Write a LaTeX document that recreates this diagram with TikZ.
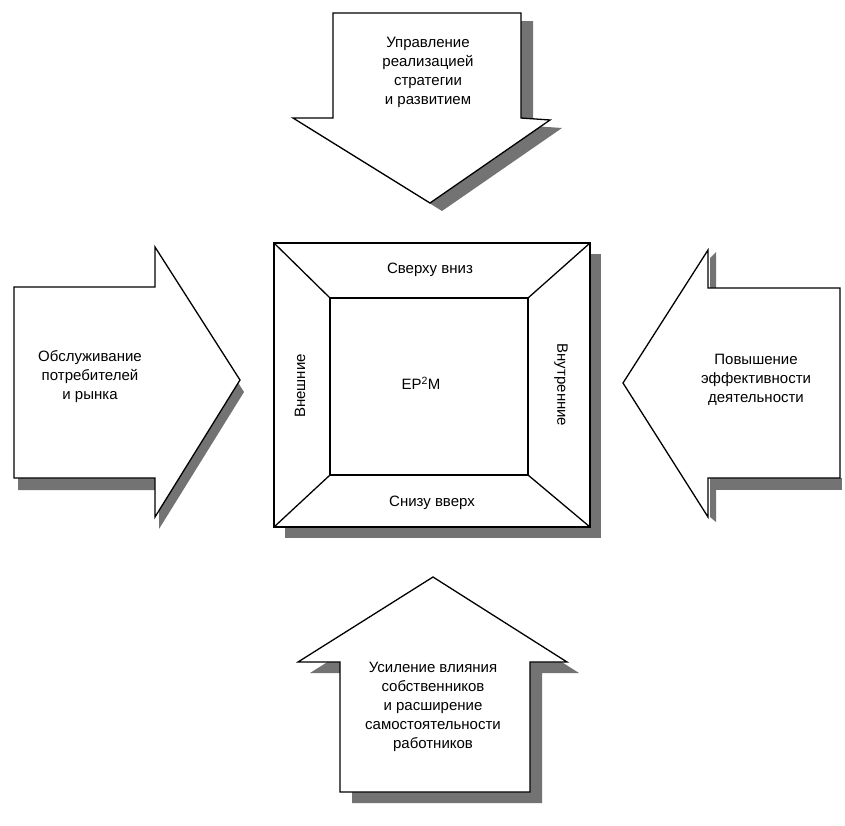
\documentclass[tikz,border=0pt]{standalone}
\usepackage{fontspec}
\setmainfont{Liberation Sans}
\newcommand{\toparrowpath}{(333,13) -- (521,13) -- (521,118) -- (550,120) -- (430,203) -- (293,118) -- (333,118) -- cycle}
\newcommand{\leftarrowpath}{(14,287) -- (155,287) -- (155,247) -- (240,380) -- (155,517) -- (155,478) -- (14,478) -- cycle}
\newcommand{\rightarrowpath}{(840,288) -- (708,288) -- (708,250) -- (623,383) -- (708,517) -- (708,478) -- (840,478) -- cycle}
\newcommand{\bottomarrowpath}{(433,577) -- (567,662) -- (530,662) -- (530,792) -- (340,792) -- (340,662) -- (298,662) -- cycle}
\begin{document}
\begin{tikzpicture}[x=1pt,y=-1pt,
  blockshape/.style={draw=black, fill=white, line width=1.3pt, line join=miter},
  shadowfill/.style={fill=black!55, draw=none},
  lbl/.style={font=\fontsize{15}{19}\selectfont, align=center, inner sep=0pt},
  frameline/.style={draw=black, line width=1.3pt}]
\useasboundingbox (0,0) rectangle (845,825);
% shadows
\fill[shadowfill, shift={(12,8)}] \toparrowpath;
\fill[shadowfill, shift={(4,12)}] \leftarrowpath;
\fill[shadowfill] (710,478) rectangle (842,490);
\fill[shadowfill] (710,490) -- (716,490) -- (716,522) -- (710,517) -- cycle;
\fill[shadowfill] (710,258) -- (716,252) -- (716,288) -- (710,288) -- cycle;
\fill[shadowfill, shift={(12,11)}] \bottomarrowpath;
\fill[shadowfill] (285,254) rectangle (601,538);
% arrows
\draw[blockshape] \toparrowpath;
\draw[blockshape] \leftarrowpath;
\draw[blockshape] \rightarrowpath;
\draw[blockshape] \bottomarrowpath;
% central frame
\coordinate (o1) at (274,243);
\coordinate (o2) at (590,243);
\coordinate (o3) at (590,527);
\coordinate (o4) at (274,527);
\coordinate (i1) at (330,298);
\coordinate (i2) at (528,298);
\coordinate (i3) at (528,475);
\coordinate (i4) at (330,475);
\draw[blockshape] (o1) -- (o2) -- (o3) -- (o4) -- cycle;
\draw[frameline] (i1) -- (i2) -- (i3) -- (i4) -- cycle;
\draw[frameline] (o1) -- (i1);
\draw[frameline] (o2) -- (i2);
\draw[frameline] (o3) -- (i3);
\draw[frameline] (o4) -- (i4);
% texts
\node[lbl] (ttop) at (428,72) {Управление\\реализацией\\стратегии\\и развитием};
\node[lbl] (tleft) at (90,377) {Обслуживание\\потребителей\\и рынка};
\node[lbl] (tright) at (756,380) {Повышение\\эффективности\\деятельности};
\node[lbl] (tbottom) at (433,707) {Усиление влияния\\собственников\\и расширение\\самостоятельности\\работников};
\node[lbl] (fsup) at (430,270) {Сверху вниз};
\node[lbl] (fsdown) at (432,503) {Снизу вверх};
\node[lbl, rotate=90] (fext) at (300,386) {Внешние};
\node[lbl, rotate=-90] (fint) at (561,385) {Внутренние};
\node[lbl] (core) at (421,383) {EP\textsuperscript{2}M};
\end{tikzpicture}
\end{document}
